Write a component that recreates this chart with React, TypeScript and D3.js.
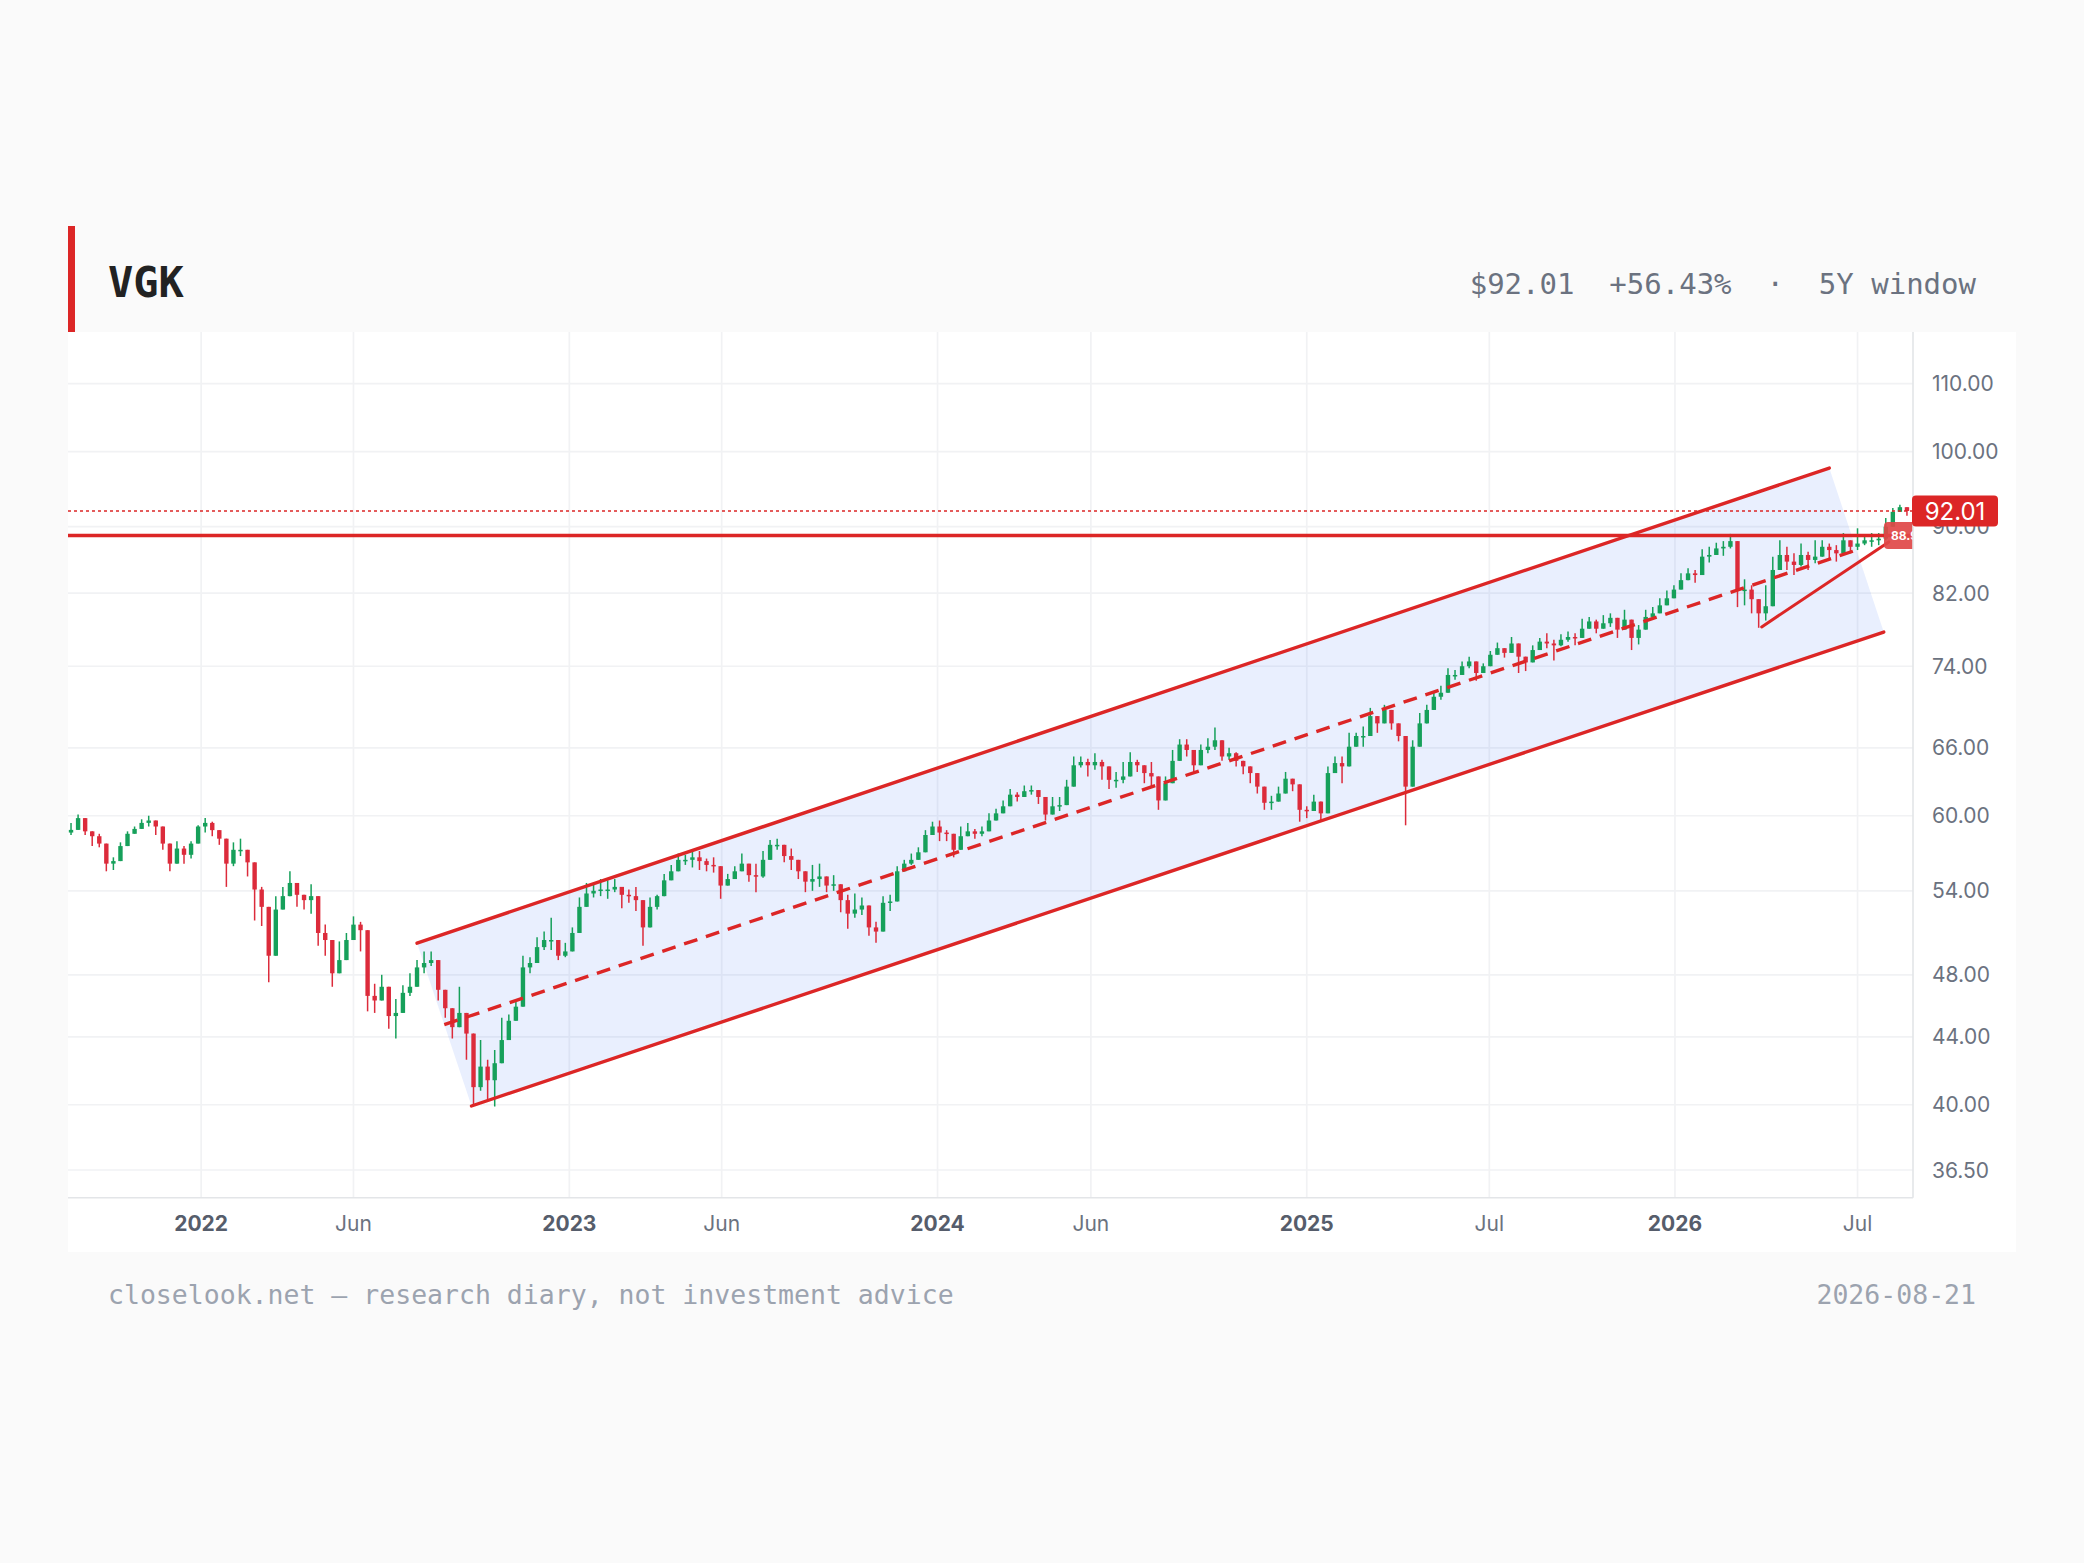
import React from 'react';
import * as d3 from 'd3';

const W = 2084;
const H = 1563;

// weekly candles (week of 2021-08-23 .. week of 2026-08-17)
const firstWeek = '2021-08-25';
const firstOpen = 58.6;

const closes = [
  58.82, 59.8, 58.7, 58.3, 57.7, 56.1, 56.3, 57.5, 58.5, 58.9,
  59.4, 59.6, 59.1, 57.7, 56.1, 57.3, 56.8, 57.7, 59.1, 59.4,
  58.8, 58.1, 56.1, 57.2, 57.2, 56.2, 54.1, 52.8, 49.3, 52.6,
  53.6, 54.6, 53.7, 53.3, 53.6, 50.9, 50.4, 48.1, 49.0, 50.4,
  51.5, 51.1, 46.6, 46.3, 47.2, 45.3, 45.5, 46.8, 47.2, 48.5,
  48.8, 49.0, 47.0, 45.8, 44.6, 45.5, 44.2, 41.0, 42.2, 41.4,
  42.4, 43.8, 45.0, 45.9, 48.5, 48.8, 49.9, 50.4, 50.4, 49.3,
  49.6, 50.9, 52.8, 53.8, 54.0, 54.1, 54.1, 54.3, 53.7, 53.6,
  53.3, 51.3, 52.8, 53.6, 54.8, 55.5, 56.4, 56.4, 56.6, 56.3,
  56.0, 55.9, 54.4, 54.9, 55.5, 56.1, 55.2, 55.1, 56.4, 57.6,
  57.6, 56.7, 56.4, 55.5, 54.7, 54.9, 55.1, 54.4, 54.5, 53.3,
  52.3, 52.6, 52.9, 51.3, 51.0, 53.1, 53.2, 55.5, 56.1, 56.4,
  57.0, 58.4, 59.1, 58.6, 58.5, 57.2, 58.3, 58.7, 58.5, 58.7,
  59.6, 60.2, 60.8, 61.8, 61.6, 62.1, 62.2, 61.6, 60.1, 60.8,
  60.9, 62.5, 64.4, 64.7, 64.4, 64.7, 64.3, 63.1, 63.1, 63.4,
  64.7, 64.4, 63.7, 63.4, 61.3, 62.8, 64.8, 66.3, 65.8, 64.4,
  65.8, 66.1, 66.7, 65.2, 65.5, 64.8, 64.3, 63.7, 62.5, 61.1,
  61.2, 61.9, 63.2, 62.7, 60.5, 60.4, 61.2, 60.2, 63.7, 64.6,
  64.3, 66.1, 67.1, 67.1, 69.0, 68.3, 69.6, 68.3, 67.1, 62.5,
  66.1, 68.3, 69.6, 70.9, 71.3, 73.1, 73.1, 74.0, 74.5, 73.3,
  74.0, 75.2, 75.9, 75.4, 76.4, 75.0, 74.4, 75.7, 76.6, 76.4,
  76.2, 76.8, 77.1, 77.0, 78.0, 78.8, 78.0, 78.6, 79.2, 77.9,
  79.0, 77.0, 77.9, 79.3, 79.7, 80.6, 81.4, 82.4, 83.5, 84.3,
  84.1, 86.3, 86.5, 87.3, 87.5, 88.2, 82.4, 82.4, 81.3, 79.7,
  80.5, 84.7, 86.5, 85.7, 85.3, 86.5, 85.9, 86.3, 87.5, 87.1,
  86.7, 88.3, 87.5, 87.9, 88.3, 88.3, 88.5, 90.0, 91.9, 92.5,
  92.01,
];

const highs = [
  59.4, 60.1, 59.7, 58.7, 58.5, 56.8, 56.6, 57.8, 58.7, 59.1,
  59.7, 60.0, 59.5, 58.6, 56.5, 57.9, 57.5, 57.9, 59.2, 59.8,
  59.5, 58.6, 56.6, 57.8, 58.1, 57.1, 55.6, 54.3, 51.4, 53.6,
  54.3, 55.5, 54.6, 53.7, 54.5, 52.0, 51.5, 49.0, 50.3, 50.9,
  52.1, 51.7, 48.7, 47.4, 48.0, 46.4, 46.4, 47.3, 48.1, 49.0,
  49.6, 49.6, 48.5, 46.7, 45.3, 47.2, 45.0, 41.6, 43.8, 42.6,
  43.2, 45.2, 45.4, 46.3, 49.3, 49.2, 50.6, 51.0, 52.0, 50.0,
  50.2, 51.3, 53.5, 54.6, 54.5, 54.9, 54.8, 54.9, 54.2, 54.1,
  54.3, 52.3, 53.5, 53.7, 55.3, 56.0, 56.9, 56.8, 57.1, 57.1,
  56.5, 56.6, 55.0, 55.3, 55.9, 56.9, 55.6, 56.1, 57.1, 58.0,
  58.1, 57.5, 57.3, 55.9, 55.2, 56.0, 56.1, 54.9, 55.2, 54.2,
  53.7, 53.8, 53.5, 52.1, 51.7, 53.6, 53.7, 55.9, 56.4, 56.9,
  57.4, 58.8, 59.5, 59.6, 58.8, 57.7, 59.1, 59.4, 58.9, 59.1,
  60.2, 60.6, 61.3, 62.3, 62.0, 62.6, 62.6, 62.0, 61.0, 61.6,
  61.6, 63.1, 65.2, 65.2, 65.0, 65.5, 64.9, 64.0, 63.8, 64.7,
  65.6, 64.9, 64.3, 64.7, 62.5, 63.4, 65.8, 66.8, 66.8, 64.9,
  66.3, 66.9, 67.9, 65.8, 66.0, 65.6, 64.7, 64.3, 63.0, 61.8,
  61.7, 62.5, 63.8, 62.9, 61.1, 60.8, 61.8, 61.2, 64.3, 65.2,
  65.2, 67.4, 67.4, 68.0, 69.8, 69.0, 70.1, 69.0, 67.7, 64.3,
  66.7, 69.3, 70.1, 71.4, 72.0, 73.8, 73.6, 74.5, 75.0, 74.0,
  74.3, 75.6, 76.5, 75.9, 77.1, 75.5, 74.9, 76.2, 77.0, 77.5,
  76.8, 77.4, 77.7, 77.5, 79.1, 79.3, 79.0, 79.5, 79.7, 78.4,
  80.1, 78.6, 78.4, 80.1, 80.4, 81.4, 82.3, 82.9, 84.3, 84.9,
  84.7, 87.2, 87.5, 88.0, 88.2, 89.1, 86.0, 83.6, 82.9, 81.3,
  82.9, 86.3, 88.3, 87.5, 86.7, 87.9, 86.9, 88.3, 88.3, 87.9,
  87.7, 89.2, 88.3, 89.8, 89.0, 89.2, 89.2, 91.1, 92.4, 92.8,
  92.4,
];

const lows = [
  58.4, 59.1, 58.4, 57.5, 57.4, 55.5, 55.6, 56.3, 57.7, 58.5,
  58.9, 59.1, 58.4, 57.2, 55.5, 56.7, 56.1, 56.5, 57.7, 58.6,
  58.3, 57.6, 54.3, 55.9, 56.7, 55.1, 51.8, 51.4, 47.5, 51.6,
  53.1, 54.2, 52.8, 52.6, 52.3, 50.0, 49.3, 47.2, 48.5, 49.7,
  50.7, 49.6, 45.6, 45.5, 46.7, 44.5, 43.9, 46.3, 46.6, 47.8,
  48.1, 48.6, 46.3, 45.2, 43.9, 45.3, 42.6, 40.0, 40.8, 40.3,
  39.9, 42.8, 44.2, 45.4, 47.1, 48.1, 49.2, 49.7, 49.7, 49.0,
  49.2, 50.4, 52.1, 53.1, 53.5, 53.6, 53.4, 53.9, 52.7, 53.1,
  52.5, 50.0, 51.6, 52.6, 54.4, 55.0, 55.9, 56.0, 55.8, 55.6,
  55.5, 55.4, 53.4, 54.5, 55.1, 55.5, 54.7, 53.9, 55.0, 57.2,
  57.2, 56.2, 55.6, 54.9, 53.9, 54.0, 54.3, 53.9, 54.0, 52.4,
  51.2, 52.0, 52.2, 50.7, 50.2, 51.7, 52.5, 54.3, 55.5, 56.0,
  56.5, 57.3, 58.6, 57.9, 57.9, 56.6, 57.5, 58.3, 58.1, 58.3,
  59.2, 59.8, 60.3, 61.4, 61.2, 61.8, 61.8, 61.0, 59.6, 60.1,
  60.4, 61.6, 63.6, 64.2, 63.4, 64.0, 63.1, 62.3, 62.4, 62.8,
  64.3, 63.8, 62.8, 62.5, 60.5, 62.1, 64.3, 65.5, 65.2, 63.8,
  65.3, 65.5, 65.8, 64.8, 64.9, 64.3, 63.6, 62.8, 61.9, 60.5,
  60.5, 61.3, 62.6, 62.1, 59.5, 59.8, 60.8, 59.6, 62.5, 64.0,
  62.8, 65.2, 66.1, 66.1, 68.1, 67.4, 69.0, 67.7, 66.6, 59.2,
  64.9, 67.4, 69.0, 70.3, 70.6, 72.3, 72.6, 73.3, 73.8, 72.5,
  73.5, 74.7, 75.6, 74.9, 75.9, 73.3, 73.5, 75.1, 76.1, 75.9,
  74.6, 76.1, 76.6, 76.2, 77.1, 78.0, 77.5, 78.0, 78.2, 77.0,
  78.2, 75.7, 76.3, 78.8, 79.3, 80.1, 81.0, 81.8, 83.0, 83.8,
  83.2, 84.3, 85.6, 86.7, 86.4, 87.3, 80.4, 80.6, 79.7, 78.1,
  78.9, 83.5, 85.5, 84.7, 84.1, 85.1, 84.7, 85.5, 86.3, 86.1,
  85.7, 87.5, 86.7, 87.1, 87.7, 87.5, 87.7, 88.3, 91.3, 91.9,
  91.4,
];

const yTicks = [110, 100, 90, 82, 74, 66, 60, 54, 48, 44, 40, 36.5];
const xTickDates = ['2022-01-01', '2022-06-01', '2023-01-01', '2023-06-01', '2024-01-01', '2024-06-01', '2025-01-01', '2025-07-01', '2026-01-01', '2026-07-01'];
const xTickLabels = ['2022', 'Jun', '2023', 'Jun', '2024', 'Jun', '2025', 'Jul', '2026', 'Jul'];

// drawings: parallel channel, trend line, horizontal level
const channelUpper: [string, number][] = [['2022-08-03', 50.18], ['2026-06-03', 97.72]];
const channelLower: [string, number][] = [['2022-09-26', 39.93], ['2026-07-27', 77.64]];
const trendLine: [string, number][] = [['2026-03-28', 78.2], ['2026-08-01', 88.1]];
const levelPrice = 88.9;
const lastPrice = 92.01;

const RED = '#dc2626';
const UP = '#16a05a';
const DOWN = '#dc2b3b';

const parse = d3.utcParse('%Y-%m-%d');

const App: React.FC = () => {
  const left = 68, right = 1913, top = 332, bottom = 1197.7;

  const x = d3.scaleUtc()
    .domain([parse('2021-08-22')!, parse('2026-08-24')!])
    .range([68, 1912]);
  const y = d3.scaleLog()
    .domain([35.11, 118.27])
    .range([bottom, top]);

  const start = parse(firstWeek)!;
  const candles = closes.map((c, i) => {
    const o = i === 0 ? firstOpen : closes[i - 1];
    return {
      date: d3.utcDay.offset(start, 7 * i),
      o, c,
      h: Math.max(highs[i], o, c),
      l: Math.min(lows[i], o, c),
    };
  });

  const pt = (d: [string, number]) => [x(parse(d[0])!), y(d[1])];
  const u0 = pt(channelUpper[0]), u1 = pt(channelUpper[1]);
  const l0 = pt(channelLower[0]), l1 = pt(channelLower[1]);
  const m0 = [(u0[0] + l0[0]) / 2, (u0[1] + l0[1]) / 2];
  const m1 = [(u1[0] + l1[0]) / 2, (u1[1] + l1[1]) / 2];
  const t0 = pt(trendLine[0]), t1 = pt(trendLine[1]);

  const bodyW = 4.4;
  const yLevel = y(levelPrice);
  const yLast = y(lastPrice);

  return (
    <svg width={W} height={H} style={{ position: 'absolute', left: 0, top: 0, display: 'block' }}>
      <defs>
        <clipPath id="plot">
          <rect x={left} y={top} width={right - left} height={bottom - top} />
        </clipPath>
      </defs>
      <rect x={0} y={0} width={W} height={H} fill="#fafafa" />

      {/* header */}
      <rect x={68} y={226} width={7} height={106} fill={RED} />
      <text x={108} y={297} fontFamily="DejaVu Sans Mono" fontWeight={700} fontSize={42} fill="#222222">VGK</text>
      <text x={1976} y={294} textAnchor="end" fontFamily="DejaVu Sans Mono" fontSize={29} fill="#6b7280" style={{ whiteSpace: 'pre' }}>
        {`$${lastPrice.toFixed(2)}  +56.43%  ·  5Y window`}
      </text>

      {/* panel */}
      <rect x={68} y={332} width={1948} height={920} fill="#ffffff" />

      {/* grid */}
      {yTicks.map(t => (
        <line key={`gy${t}`} x1={left} x2={right} y1={y(t)} y2={y(t)} stroke="#f1f2f4" strokeWidth={1.7} />
      ))}
      {xTickDates.map(d => (
        <line key={`gx${d}`} x1={x(parse(d)!)} x2={x(parse(d)!)} y1={top} y2={bottom} stroke="#f1f2f4" strokeWidth={1.7} />
      ))}

      <g clipPath="url(#plot)">
        {/* channel fill */}
        <polygon
          points={[u0, u1, l1, l0].map(p => p.join(',')).join(' ')}
          fill="#3b6cf6" fillOpacity={0.11}
        />

        {/* candles */}
        {candles.map((d, i) => {
          const cx = x(d.date);
          const col = d.c >= d.o ? UP : DOWN;
          const yt = y(Math.max(d.o, d.c));
          const yb = y(Math.min(d.o, d.c));
          return (
            <g key={i}>
              <line x1={cx} x2={cx} y1={y(d.h)} y2={y(d.l)} stroke={col} strokeWidth={1.5} />
              <rect x={cx - bodyW / 2} y={yt} width={bodyW} height={Math.max(1.5, yb - yt)} fill={col} />
            </g>
          );
        })}

        {/* channel lines */}
        <line x1={u0[0]} y1={u0[1]} x2={u1[0]} y2={u1[1]} stroke={RED} strokeWidth={3.4} strokeLinecap="round" />
        <line x1={l0[0]} y1={l0[1]} x2={l1[0]} y2={l1[1]} stroke={RED} strokeWidth={3.4} strokeLinecap="round" />
        <line x1={m0[0]} y1={m0[1]} x2={m1[0]} y2={m1[1]} stroke={RED} strokeWidth={3.4} strokeDasharray="14 9" />

        {/* trend line */}
        <line x1={t0[0]} y1={t0[1]} x2={t1[0]} y2={t1[1]} stroke={RED} strokeWidth={3} strokeLinecap="round" />

        {/* horizontal level + last price */}
        <line x1={left} x2={right} y1={yLevel} y2={yLevel} stroke={RED} strokeWidth={3.4} />
        <line x1={left} x2={right} y1={yLast} y2={yLast} stroke={RED} strokeWidth={1.6} strokeDasharray="3 3" />

        <rect x={1884} y={yLevel - 13.5} width={60} height={27} rx={4} fill="#e04848" fillOpacity={0.92} />
        <text x={1891} y={yLevel + 4.5} fontFamily="Inter" fontWeight={700} fontSize={12} fill="#ffffff">{levelPrice.toFixed(2)}</text>
      </g>

      {/* axes */}
      <line x1={right} x2={right} y1={top} y2={bottom} stroke="#e3e5e8" strokeWidth={1.6} />
      <line x1={left} x2={right} y1={bottom} y2={bottom} stroke="#e3e5e8" strokeWidth={1.6} />

      {yTicks.map(t => (
        <text key={`ty${t}`} x={1932} y={y(t)} dy="0.36em" fontFamily="Inter" fontSize={21} fill="#6b7280">
          {t.toFixed(2)}
        </text>
      ))}
      {xTickDates.map((d, i) => {
        const isYear = /^\d{4}$/.test(xTickLabels[i]);
        return (
          <text key={`tx${d}`} x={x(parse(d)!)} y={1231} textAnchor="middle" fontFamily="Inter"
            fontSize={21} fontWeight={isYear ? 700 : 400} fill={isYear ? '#565d6b' : '#6b7280'}>
            {xTickLabels[i]}
          </text>
        );
      })}

      {/* last price label */}
      <rect x={1912} y={yLast - 15.5} width={86} height={31} rx={4} fill={RED} />
      <text x={1955} y={yLast} dy="0.36em" textAnchor="middle" fontFamily="Inter" fontSize={24} fill="#ffffff">
        {lastPrice.toFixed(2)}
      </text>

      {/* footer */}
      <text x={108} y={1304} fontFamily="DejaVu Sans Mono" fontSize={26.5} fill="#9ca3af">
        closelook.net — research diary, not investment advice
      </text>
      <text x={1976} y={1304} textAnchor="end" fontFamily="DejaVu Sans Mono" fontSize={26.5} fill="#9ca3af">
        2026-08-21
      </text>
    </svg>
  );
};

export default App;
